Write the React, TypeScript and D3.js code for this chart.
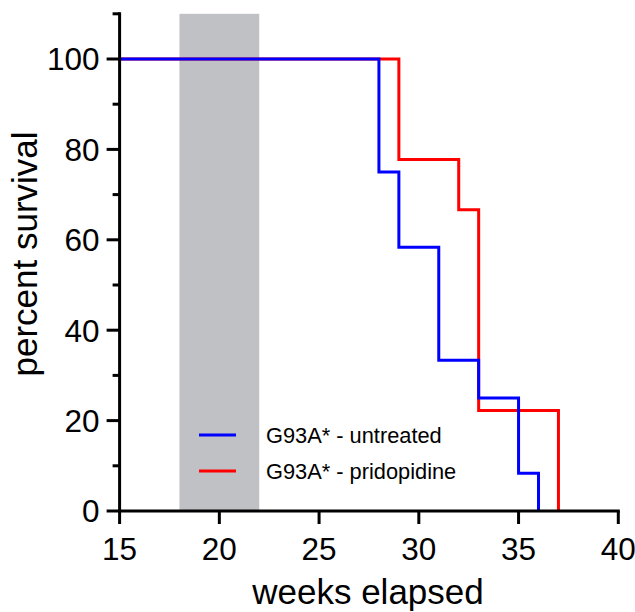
import React, { useEffect, useRef } from "react";
import * as d3 from "d3";

// Kaplan-Meier steps (week of death, survival % afterwards)
const untreatedWeeks = [15, 28, 29, 31, 33, 35, 36];
const untreatedSurvival = [100, 75, 58.33, 33.33, 25, 8.33, 0];
const treatedWeeks = [15, 29, 32, 33, 37];
const treatedSurvival = [100, 77.78, 66.67, 22.22, 0];

const seriesNames = ["G93A* - untreated", "G93A* - pridopidine"];
const seriesColors = ["#0000ff", "#ff0000"];

const xTicks = [15, 20, 25, 30, 35, 40];
const yTicks = [0, 20, 40, 60, 80, 100];
const yMinorTicks = [10, 30, 50, 70, 90, 110];
const treatmentWindow = [18, 22];

const FONT = "'Liberation Sans', Arial, Helvetica, sans-serif";

const App = () => {
  const ref = useRef<SVGSVGElement | null>(null);

  useEffect(() => {
    const svg = d3.select(ref.current);
    svg.selectAll("*").remove();

    const x = d3.scaleLinear().domain([15, 40]).range([119.6, 618.3]);
    const y = d3.scaleLinear().domain([0, 110]).range([511, 13.8]);

    // shaded treatment window
    svg.append("rect")
      .attr("x", x(treatmentWindow[0]))
      .attr("y", y(110))
      .attr("width", x(treatmentWindow[1]) - x(treatmentWindow[0]))
      .attr("height", y(0) - y(110))
      .attr("fill", "#c0c1c4");

    const line = d3.line<[number, number]>()
      .x(d => x(d[0]))
      .y(d => y(d[1]))
      .curve(d3.curveStepAfter);

    const series = [
      { pts: treatedWeeks.map((w, i) => [w, treatedSurvival[i]] as [number, number]), color: seriesColors[1] },
      { pts: untreatedWeeks.map((w, i) => [w, untreatedSurvival[i]] as [number, number]), color: seriesColors[0] },
    ];

    series.forEach(s => {
      svg.append("path")
        .attr("d", line(s.pts))
        .attr("fill", "none")
        .attr("stroke", s.color)
        .attr("stroke-width", 3)
        .attr("stroke-linejoin", "miter");
    });

    // y axis
    const yAxis = svg.append("g");
    yAxis.append("line")
      .attr("x1", x(15)).attr("x2", x(15))
      .attr("y1", y(110) - 1.5).attr("y2", y(0) + 1.5)
      .attr("stroke", "#000").attr("stroke-width", 3);
    yTicks.forEach(t => {
      yAxis.append("line")
        .attr("x1", x(15) - 13).attr("x2", x(15))
        .attr("y1", y(t)).attr("y2", y(t))
        .attr("stroke", "#000").attr("stroke-width", 3);
      yAxis.append("text")
        .attr("x", x(15) - 20)
        .attr("y", y(t))
        .attr("dy", "0.36em")
        .attr("text-anchor", "end")
        .attr("font-family", FONT)
        .attr("font-size", 31.5)
        .text(t);
    });
    yMinorTicks.forEach(t => {
      yAxis.append("line")
        .attr("x1", x(15) - 7).attr("x2", x(15))
        .attr("y1", y(t)).attr("y2", y(t))
        .attr("stroke", "#000").attr("stroke-width", 3);
    });

    // x axis
    const xAxis = svg.append("g");
    xAxis.append("line")
      .attr("x1", x(15) - 1.5).attr("x2", x(40) + 1.5)
      .attr("y1", y(0)).attr("y2", y(0))
      .attr("stroke", "#000").attr("stroke-width", 3);
    xTicks.forEach(t => {
      xAxis.append("line")
        .attr("x1", x(t)).attr("x2", x(t))
        .attr("y1", y(0)).attr("y2", y(0) + 13)
        .attr("stroke", "#000").attr("stroke-width", 3);
      xAxis.append("text")
        .attr("x", x(t))
        .attr("y", 560)
        .attr("text-anchor", "middle")
        .attr("font-family", FONT)
        .attr("font-size", 31.5)
        .text(t);
    });

    // axis titles
    svg.append("text")
      .attr("x", 368)
      .attr("y", 604)
      .attr("text-anchor", "middle")
      .attr("font-family", FONT)
      .attr("font-size", 35)
      .text("weeks elapsed");

    svg.append("text")
      .attr("transform", "rotate(-90)")
      .attr("x", -254)
      .attr("y", 37)
      .attr("text-anchor", "middle")
      .attr("font-family", FONT)
      .attr("font-size", 35)
      .text("percent survival");

    // legend
    const legend = svg.append("g");
    seriesNames.forEach((name, i) => {
      const ly = 435 + i * 36;
      legend.append("line")
        .attr("x1", 199).attr("x2", 236)
        .attr("y1", ly).attr("y2", ly)
        .attr("stroke", seriesColors[i])
        .attr("stroke-width", 3);
      legend.append("text")
        .attr("x", 266)
        .attr("y", ly)
        .attr("dy", "0.36em")
        .attr("font-family", FONT)
        .attr("font-size", 21.8)
        .text(name);
    });
  }, []);

  return (
    <svg
      ref={ref}
      width={635}
      height={612}
      style={{ position: "absolute", left: 0, top: 0, background: "#fff" }}
    />
  );
};

export default App;
